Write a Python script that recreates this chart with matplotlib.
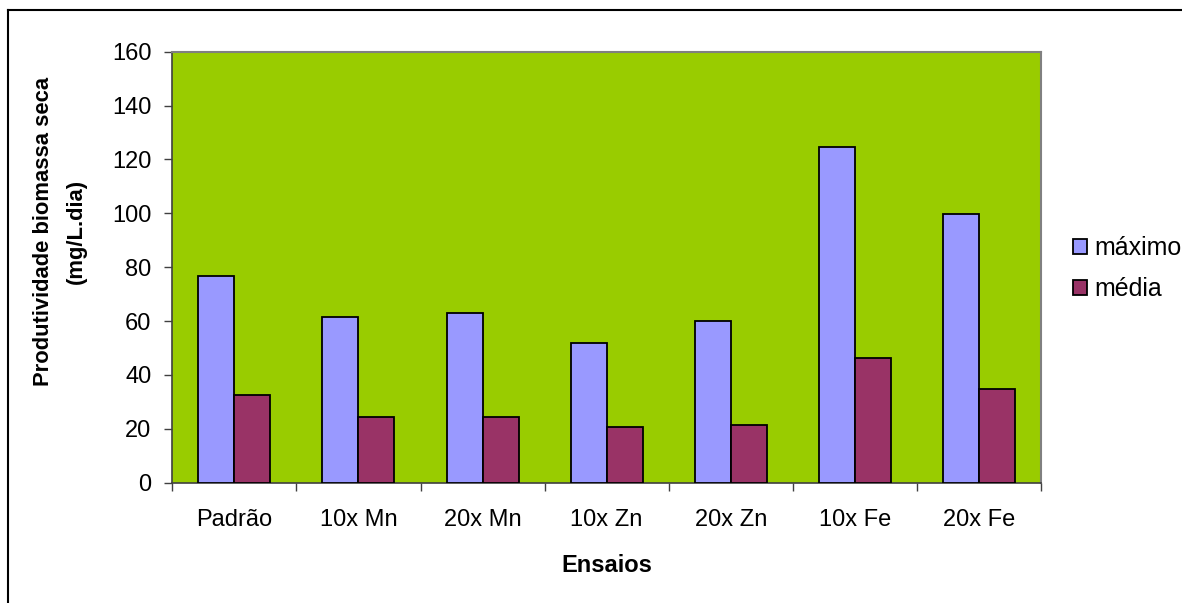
import numpy as np
import matplotlib.pyplot as plt
from matplotlib.lines import Line2D

plt.rcParams['font.family'] = ['Liberation Sans', 'DejaVu Sans']

# Ensaios e produtividades (mg/L.dia)
ensaios = ["Padrão", "10x Mn", "20x Mn", "10x Zn", "20x Zn", "10x Fe", "20x Fe"]
maximo = [76.7, 61.5, 62.9, 52.0, 60.0, 124.5, 99.9]
media = [32.4, 24.5, 24.5, 20.8, 21.5, 46.2, 34.7]

W, H = 1182, 603
fig = plt.figure(figsize=(W / 100, H / 100), dpi=100)
ax = fig.add_axes([172.3 / W, 1 - 482.7 / H, 868.7 / W, 431 / H])

x = np.arange(len(ensaios))
bw = 0.29
ax.bar(x - bw / 2, maximo, bw, color="#9999FF", edgecolor="black",
       linewidth=1.3, label="máximo", zorder=3)
ax.bar(x + bw / 2, media, bw, color="#993366", edgecolor="black",
       linewidth=1.3, label="média", zorder=3)

ax.set_facecolor("#99CC00")
ax.set_xlim(-0.5, len(ensaios) - 0.5)
ax.set_ylim(0, 160)

# bordas da área de plotagem
for s in ["top", "right"]:
    ax.spines[s].set_color("#808080")
    ax.spines[s].set_linewidth(1.5)
for s in ["left", "bottom"]:
    ax.spines[s].set_color("#404040")
    ax.spines[s].set_linewidth(1.2)

# marcas entre categorias, rótulos no centro
ax.set_xticks(np.arange(-0.5, len(ensaios), 1.0))
ax.set_xticklabels([])
ax.set_xticks(x, minor=True)
ax.set_xticklabels(ensaios, minor=True, fontsize=17)
ax.tick_params(axis="x", which="major", direction="out", length=5.5,
               width=1, color="#404040")
ax.tick_params(axis="x", which="minor", length=0, pad=19)

ax.set_yticks(np.arange(0, 161, 20))
ax.tick_params(axis="y", direction="out", length=5.5, width=1,
               color="#404040", labelsize=17, pad=9.5)

fig.text(606.6 / W, 1 - 565 / H, "Ensaios", ha="center", va="center",
         fontsize=17, fontweight="bold")
fig.text(60 / W, 1 - 231 / H, "Produtividade biomassa seca\n(mg/L.dia)",
         ha="center", va="center", rotation=90, fontsize=15.8,
         fontweight="bold", linespacing=1.7, multialignment="center")

fig.legend(loc="center left", bbox_to_anchor=(1060 / W, 1 - 268.5 / H),
           frameon=False, fontsize=18, handlelength=0.56, handleheight=0.56,
           handletextpad=0.32, labelspacing=0.68, borderpad=0)

# moldura do gráfico
fig.add_artist(Line2D([8 / W, 8 / W], [0, 1 - 10 / H], color="black",
                      linewidth=1.5, transform=fig.transFigure))
fig.add_artist(Line2D([8 / W, 1], [1 - 10 / H, 1 - 10 / H], color="black",
                      linewidth=1.5, transform=fig.transFigure))

fig.savefig("out.png", dpi=100)
